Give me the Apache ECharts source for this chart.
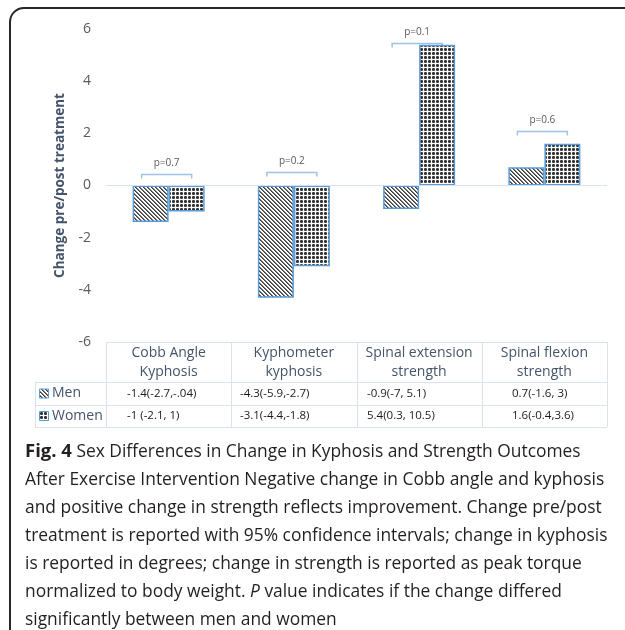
<!DOCTYPE html>
<html>
<head>
<meta charset="utf-8">
<script src="https://cdn.jsdelivr.net/npm/echarts@6/dist/echarts.min.js"></script>
<style>
  html, body { margin: 0; padding: 0; background: #fff; }
  #main { width: 625px; height: 630px; }
</style>
</head>
<body>
<div id="main"></div>
<script>
var categories = ['Cobb Angle\nKyphosis', 'Kyphometer\nkyphosis', 'Spinal extension\nstrength', 'Spinal flexion\nstrength'];
var men = [-1.4, -4.3, -0.9, 0.7];
var women = [-1, -3.1, 5.4, 1.6];
var menCI = ['-1.4(-2.7,-.04)', '-4.3(-5.9,-2.7)', '-0.9(-7, 5.1)', '0.7(-1.6, 3)'];
var womenCI = ['-1 (-2.1, 1)', '-3.1(-4.4,-1.8)', '5.4(0.3, 10.5)', '1.6(-0.4,3.6)'];
var pLabels = ['p=0.7', 'p=0.2', 'p=0.1', 'p=0.6'];
var pHeights = [0.43, 0.5, 5.48, 2.08];

var captionLines = [
    '{b|Fig. 4} Sex Differences in Change in Kyphosis and Strength Outcomes',
    'After Exercise Intervention Negative change in Cobb angle and kyphosis',
    'and positive change in strength reflects improvement. Change pre/post',
    'treatment is reported with 95% confidence intervals; change in kyphosis',
    'is reported in degrees; change in strength is reported as peak torque',
    'normalized to body weight. {i|P} value indicates if the change differed',
    'significantly between men and women'
];

var blue = '#5b9bd5';
var axisText = '#44546a';
var gridLine = '#d9e2f0';

// little tiles for the hatch fills
function stripeTile(){
    var c = document.createElement('canvas');
    c.width = 4; c.height = 4;
    var ctx = c.getContext('2d');
    ctx.fillStyle = '#fff';
    ctx.fillRect(0, 0, 4, 4);
    for (var y = 0; y < 4; y++) {
        for (var x = 0; x < 4; x++) {
            var d = (x - y + 8) % 4;
            if (d === 0) { ctx.fillStyle = '#3a3a3a'; ctx.fillRect(x, y, 1, 1); }
            else if (d === 1) { ctx.fillStyle = '#7a7a7a'; ctx.fillRect(x, y, 1, 1); }
        }
    }
    return c;
}
function dotTile(){
    var c = document.createElement('canvas');
    c.width = 4; c.height = 4;
    var ctx = c.getContext('2d');
    ctx.fillStyle = '#fff';
    ctx.fillRect(0, 0, 4, 4);
    ctx.fillStyle = '#6e6e6e';
    ctx.fillRect(0, 0, 3, 3);
    ctx.fillStyle = '#333';
    ctx.fillRect(0, 1, 3, 1);
    ctx.fillRect(1, 0, 1, 3);
    return c;
}
var menFill = { image: stripeTile(), repeat: 'repeat' };
var womenFill = { image: dotTile(), repeat: 'repeat' };

var gridLeft = 106, gridRight = 607, gridTop = 29, gridBottom = 342;
var colW = (gridRight - gridLeft) / categories.length;
var tableLeft = 35, rowLines = [382, 405, 427];
var cellPad = [21, 9, 10, 30];

var graphics = [];
// frame
graphics.push({
    type: 'rect', z: 1,
    shape: { x: 10, y: 8, width: 650, height: 640, r: 14 },
    style: { fill: 'none', stroke: '#262626', lineWidth: 2 }
});
// table lines
function hline(x1, x2, y){
    graphics.push({ type: 'line', shape: { x1: x1, y1: y, x2: x2, y2: y }, style: { stroke: gridLine, lineWidth: 1 } });
}
function vline(x, y1, y2){
    graphics.push({ type: 'line', shape: { x1: x, y1: y1, x2: x, y2: y2 }, style: { stroke: gridLine, lineWidth: 1 } });
}
hline(gridLeft, gridRight, gridBottom + 0.5);
rowLines.forEach(function(y){ hline(tableLeft, gridRight, y + 0.5); });
vline(tableLeft + 0.5, rowLines[0], rowLines[2]);
for (var i = 0; i <= categories.length; i++) {
    vline(Math.round(gridLeft + i * colW) + 0.5, gridBottom, rowLines[2]);
}
// row headers with swatches
[['Men', menFill], ['Women', womenFill]].forEach(function(r, k){
    var cy = (rowLines[k] + rowLines[k + 1]) / 2;
    graphics.push({
        type: 'rect',
        shape: { x: 39.5, y: cy - 4.5, width: 9, height: 9 },
        style: { fill: r[1], stroke: blue, lineWidth: 1 }
    });
    graphics.push({
        type: 'text', x: 52, y: cy,
        style: { text: r[0], fill: axisText, font: '14px "Open Sans"', verticalAlign: 'middle' }
    });
});
// table values
[menCI, womenCI].forEach(function(row, k){
    var cy = (rowLines[k] + rowLines[k + 1]) / 2;
    row.forEach(function(txt, j){
        graphics.push({
            type: 'text', x: Math.round(gridLeft + j * colW) + cellPad[j], y: cy,
            style: { text: txt, fill: '#1a1a1a', font: '11.5px "Open Sans"', verticalAlign: 'middle' }
        });
    });
});
// caption
graphics.push({
    type: 'text', x: 25, y: 438,
    style: {
        text: captionLines.join('\n'),
        fill: '#231f20',
        font: '17.4px "Open Sans"',
        lineHeight: 28,
        rich: {
            b: { fontWeight: 'bold', fontSize: 18.5, fontFamily: 'Open Sans', fill: '#231f20', lineHeight: 28 },
            i: { fontStyle: 'italic', fontSize: 17.4, fontFamily: 'Open Sans', fill: '#231f20', lineHeight: 28 }
        }
    }
});

var chart = echarts.init(document.getElementById('main'));
var option = {
    animation: false,
    backgroundColor: '#fff',
    grid: { left: gridLeft, top: gridTop, width: gridRight - gridLeft, height: gridBottom - gridTop },
    xAxis: {
        type: 'category',
        data: categories,
        axisLine: { show: false },
        axisTick: { show: false },
        axisLabel: {
            color: axisText, fontFamily: 'Open Sans', fontSize: 14,
            lineHeight: 19, margin: 2, interval: 0
        }
    },
    yAxis: {
        type: 'value', min: -6, max: 6, interval: 2,
        name: 'Change pre/post treatment',
        nameLocation: 'middle', nameGap: 38,
        nameTextStyle: { color: axisText, fontFamily: 'Open Sans', fontSize: 13.5, fontWeight: 'bold' },
        axisLine: { show: false },
        axisTick: { show: false },
        splitLine: { show: false },
        axisLabel: { color: '#595959', fontFamily: 'Open Sans', fontSize: 14, margin: 15 }
    },
    series: [
        {
            name: 'Men', type: 'bar', data: men, barWidth: 36, barGap: '0%',
            itemStyle: { color: menFill, borderColor: blue, borderWidth: 1.5 },
            markLine: {
                silent: true, symbol: 'none', label: { show: false },
                lineStyle: { color: gridLine, type: 'solid', width: 1 },
                data: [{ yAxis: 0 }]
            }
        },
        {
            name: 'Women', type: 'bar', data: women, barWidth: 36,
            itemStyle: { color: womenFill, borderColor: blue, borderWidth: 1.5 }
        },
        {
            type: 'custom',
            data: pHeights.map(function(h, i){ return [i, h]; }),
            renderItem: function(params, api){
                var c = api.coord([api.value(0), api.value(1)]);
                var cx = c[0] - 2, y = Math.round(c[1]) + 0.5;
                return {
                    type: 'group',
                    children: [
                        {
                            type: 'polyline',
                            shape: { points: [[cx - 25, y + 4], [cx - 25, y], [cx + 25, y], [cx + 25, y + 4]] },
                            style: { stroke: '#9dc3e6', lineWidth: 1.5, fill: 'none' }
                        },
                        {
                            type: 'text', x: cx, y: y - 11,
                            style: {
                                text: pLabels[params.dataIndex], fill: '#595959',
                                font: '10px "Open Sans"', align: 'center', verticalAlign: 'middle'
                            }
                        }
                    ]
                };
            }
        }
    ],
    graphic: graphics
};
chart.setOption(option);
</script>
</body>
</html>
